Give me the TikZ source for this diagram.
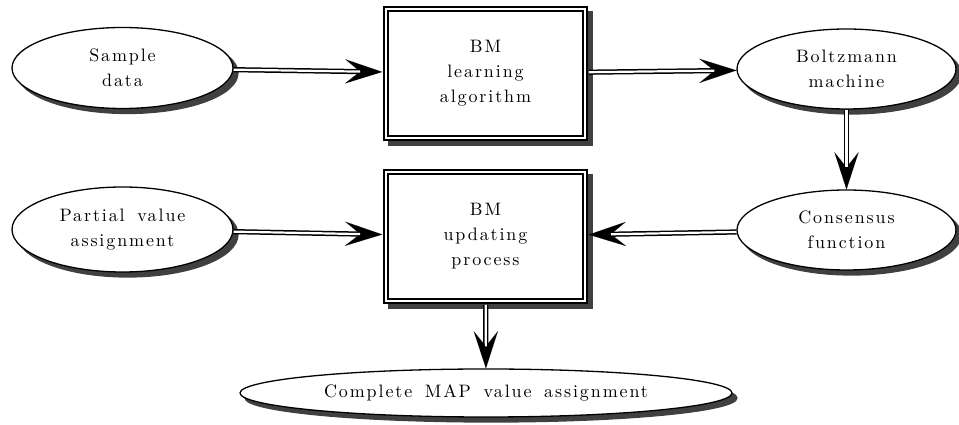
\documentclass[tikz,border=0pt]{standalone}
\usepackage{fontspec}
\setmainfont{lmroman10-regular}[Extension=.otf]
\newfontfamily\diagfont{lmroman10-regular}[Extension=.otf, LetterSpace=10.5, WordSpace=1.6]
\usetikzlibrary{arrows.meta,shapes.geometric,shadows}
\definecolor{shadowgray}{gray}{0.25}
\begin{document}
\begin{tikzpicture}[x=1pt,y=1pt,
  every node/.style={font=\diagfont\fontsize{18}{25}\selectfont},
  ell/.style={ellipse, draw, line width=1.3pt, fill=white, inner sep=0pt, align=center,
    drop shadow={shadow xshift=5pt, shadow yshift=-5pt, fill=shadowgray, draw=shadowgray, line width=1.3pt, opacity=1}},
  procbox/.style={rectangle, draw, double=white, double distance=2.6pt, line width=1.6pt, fill=white,
    inner sep=0pt, minimum width=199.2pt, minimum height=129.2pt, align=center,
    drop shadow={shadow xshift=5pt, shadow yshift=-5pt, fill=shadowgray, draw=shadowgray, line width=5.8pt, opacity=1}},
  conn/.style={line width=5.2pt, -{Stealth[length=37pt,width=24pt,inset=15pt,line width=0.01pt]}},
  connin/.style={white, line width=2.2pt}
]
\useasboundingbox (0,0) rectangle (959,425);
\node[ell, minimum width=221pt, minimum height=81pt] (sample) at (122.5,357) {Sample\\data};
\node[ell, minimum width=221pt, minimum height=85pt] (partial) at (122.5,195.5) {Partial value\\assignment};
\node[ell, minimum width=219pt, minimum height=80pt] (boltz) at (846.5,356) {Boltzmann\\machine};
\node[ell, minimum width=219pt, minimum height=80pt] (cons) at (846.5,195) {Consensus\\function};
\node[procbox] (learn) at (485.5,351.5) {BM\\learning\\algorithm};
\node[procbox] (update) at (485.5,188.5) {BM\\updating\\process};
\node[ell, minimum width=492pt, minimum height=48pt] (map) at (486,32) {Complete MAP value assignment};
% connectors
\draw[conn, shorten >=2.9pt] (sample) -- (learn);
\draw[connin, shorten >=25pt] (sample) -- (learn);
\draw[conn, shorten <=2.9pt] (learn) -- (boltz);
\draw[connin, shorten <=2.9pt, shorten >=22pt] (learn) -- (boltz);
\draw[conn] (boltz) -- (cons);
\draw[connin, shorten >=22pt] (boltz) -- (cons);
\draw[conn, shorten >=2.9pt] (cons) -- (update);
\draw[connin, shorten >=25pt] (cons) -- (update);
\draw[conn, shorten >=2.9pt] (partial) -- (update);
\draw[connin, shorten >=25pt] (partial) -- (update);
\draw[conn, shorten <=2.9pt] (update) -- (map);
\draw[connin, shorten <=2.9pt, shorten >=22pt] (update) -- (map);
\end{tikzpicture}
\end{document}
